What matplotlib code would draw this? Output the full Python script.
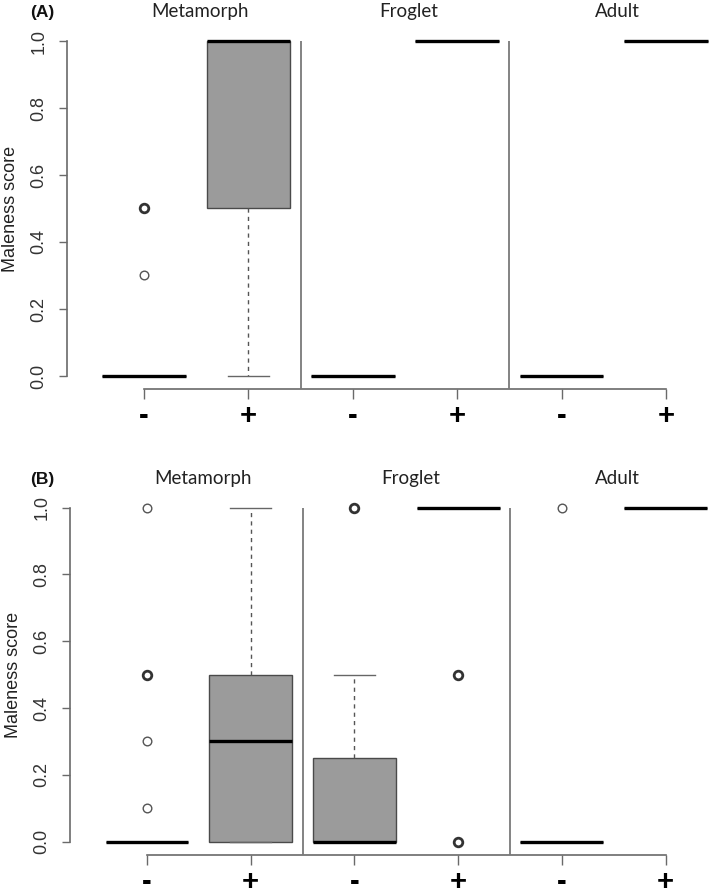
import matplotlib
matplotlib.use("Agg")
import matplotlib.pyplot as plt
from collections import Counter

# box positions: Metamorph -, Metamorph +, Froglet -, Froglet +, Adult -, Adult +
stages = ["Metamorph", "Froglet", "Adult"]
treat_labels = ["-", "+", "-", "+", "-", "+"]

# panel A box statistics
a_q1 = [0.0, 0.5, 0.0, 1.0, 0.0, 1.0]
a_med = [0.0, 1.0, 0.0, 1.0, 0.0, 1.0]
a_q3 = [0.0, 1.0, 0.0, 1.0, 0.0, 1.0]
a_lo = [0.0, 0.0, 0.0, 1.0, 0.0, 1.0]
a_hi = [0.0, 1.0, 0.0, 1.0, 0.0, 1.0]
a_out = [[0.5, 0.5, 0.3], [], [], [], [], []]

# panel B box statistics
b_q1 = [0.0, 0.0, 0.0, 1.0, 0.0, 1.0]
b_med = [0.0, 0.3, 0.0, 1.0, 0.0, 1.0]
b_q3 = [0.0, 0.5, 0.25, 1.0, 0.0, 1.0]
b_lo = [0.0, 0.0, 0.0, 1.0, 0.0, 1.0]
b_hi = [0.0, 1.0, 0.5, 1.0, 0.0, 1.0]
b_out = [[1.0, 0.5, 0.5, 0.3, 0.1], [], [1.0, 1.0], [0.5, 0.5, 0.0, 0.0], [1.0], []]

W, H = 709, 888
fig = plt.figure(figsize=(W / 100, H / 100), dpi=100)
fig.patch.set_facecolor("white")

AX_FONT = "Liberation Sans"
TITLE_FONT = "Lato"


def panel(rect_px, pos1, step, q1, med, q3, lo, hi, outs, tag):
    left, top, bottom = rect_px
    right = W
    ax = fig.add_axes([left / W, 1 - bottom / H, (right - left) / W, (bottom - top) / H])
    x0 = 1 - (pos1 - left) / step
    ax.set_xlim(x0, x0 + (right - left) / step)
    ax.set_ylim(-0.04, 1.04)

    stats = []
    for i in range(6):
        stats.append(dict(q1=q1[i], med=med[i], q3=q3[i], whislo=lo[i], whishi=hi[i], fliers=[]))
    ax.bxp(stats, positions=range(1, 7), widths=0.8, patch_artist=True, showfliers=False,
           boxprops=dict(facecolor="#9b9b9b", edgecolor="#4a4a4a", linewidth=1.0),
           medianprops=dict(color="black", linewidth=2.4, solid_capstyle="butt", zorder=4),
           whiskerprops=dict(color="#555555", linewidth=1.0, linestyle=(0, (3, 3))),
           capprops=dict(color="#666666", linewidth=1.0),
           capwidths=0.4)

    # outliers; repeated values drawn heavier like overplotted points
    for i, vals in enumerate(outs):
        for v, n in Counter(vals).items():
            ax.plot(i + 1, v, "o", ms=6.2, mfc="none", mec="#333333" if n > 1 else "#555555",
                    mew=2.0 if n > 1 else 1.0, zorder=5, clip_on=False)

    # stage separators
    ax.vlines([2.5, 4.5], -0.04, 1.0, colors="#7a7a7a", linewidth=1.3, zorder=3)

    for s in ["top", "right"]:
        ax.spines[s].set_visible(False)
    ax.spines["left"].set_bounds(0, 1)
    ax.spines["bottom"].set_bounds(1, 6)
    for s in ["left", "bottom"]:
        ax.spines[s].set_color("#6a6a6a")
        ax.spines[s].set_linewidth(1.2)

    ax.set_yticks([0, 0.2, 0.4, 0.6, 0.8, 1.0])
    ax.set_yticklabels(["0.0", "0.2", "0.4", "0.6", "0.8", "1.0"], rotation=90, va="center",
                       fontfamily=AX_FONT, fontsize=13, color="#333333")
    ax.tick_params(axis="y", length=6, width=1.0, color="#6a6a6a", pad=8)
    ax.set_xticks(range(1, 7))
    ax.set_xticklabels(treat_labels, fontfamily=AX_FONT, fontsize=21, fontweight="bold")
    ax.tick_params(axis="x", length=7, width=1.0, color="#6a6a6a", pad=2)
    ax.set_ylabel("Maleness score", fontfamily=AX_FONT, fontsize=13, color="#222222", labelpad=8)

    # stage titles and panel tag
    ytitle = top - 16
    for k, name in enumerate(stages):
        xc = 1.5 + 2 * k
        px = left + (xc - x0) * step + 4
        fig.text(px / W, 1 - ytitle / H, name, ha="center", va="center",
                 fontfamily=TITLE_FONT, fontsize=13.5, color="#222222")
    fig.text(42 / W, 1 - (ytitle + 1) / H, tag, ha="center", va="center",
             fontfamily=AX_FONT, fontsize=12.5, fontweight="bold", color="#111111")
    return ax


panel((67, 27.6, 389.4), 144, 104.4, a_q1, a_med, a_q3, a_lo, a_hi, a_out, "(A)")
panel((70, 494.3, 855), 147, 103.7, b_q1, b_med, b_q3, b_lo, b_hi, b_out, "(B)")

fig.savefig("out.png", dpi=100)
